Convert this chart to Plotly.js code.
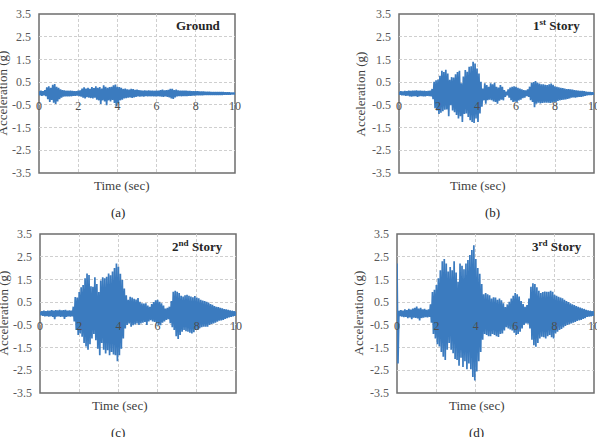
<!DOCTYPE html>
<html><head><meta charset="utf-8">
<script src="https://cdn.plot.ly/plotly-3.0.1.min.js"></script>
<style>html,body{margin:0;padding:0;background:#fff}#chart{width:597px;height:437px}</style>
</head><body><div id="chart"></div>
<script>
// sampling step of the envelope readings (s)
const dt = 0.1;

// Ground (a): upper / lower envelope every 0.1 s, 0..10 s
const groundUpper = [0.10,0.12,0.10,0.15,0.27,0.32,0.25,0.38,0.42,0.30,
 0.25,0.18,0.15,0.14,0.12,0.12,0.13,0.11,0.10,0.10,
 0.12,0.14,0.22,0.27,0.22,0.25,0.20,0.28,0.24,0.32,
 0.25,0.28,0.22,0.36,0.30,0.25,0.28,0.30,0.36,0.39,
 0.30,0.28,0.25,0.20,0.22,0.18,0.17,0.20,0.19,0.16,
 0.17,0.15,0.14,0.13,0.14,0.13,0.14,0.12,0.13,0.12,
 0.12,0.13,0.15,0.17,0.14,0.15,0.16,0.20,0.21,0.15,
 0.17,0.14,0.13,0.12,0.12,0.12,0.11,0.11,0.10,0.10,
 0.10,0.10,0.09,0.09,0.09,0.08,0.08,0.08,0.07,0.07,
 0.07,0.07,0.06,0.06,0.06,0.05,0.05,0.05,0.04,0.04,0.04];
const groundLower = [-0.08,-0.10,-0.08,-0.12,-0.25,-0.37,-0.28,-0.40,-0.46,-0.35,
 -0.25,-0.18,-0.14,-0.13,-0.12,-0.13,-0.12,-0.10,-0.10,-0.09,
 -0.11,-0.14,-0.18,-0.22,-0.16,-0.18,-0.20,-0.22,-0.18,-0.27,
 -0.30,-0.46,-0.30,-0.35,-0.52,-0.30,-0.35,-0.28,-0.42,-0.57,
 -0.42,-0.30,-0.27,-0.22,-0.20,-0.18,-0.17,-0.19,-0.17,-0.15,
 -0.13,-0.14,-0.13,-0.14,-0.12,-0.13,-0.12,-0.12,-0.13,-0.12,
 -0.12,-0.13,-0.14,-0.15,-0.13,-0.15,-0.17,-0.22,-0.24,-0.17,
 -0.13,-0.12,-0.12,-0.11,-0.11,-0.11,-0.10,-0.10,-0.09,-0.09,
 -0.08,-0.08,-0.08,-0.08,-0.07,-0.07,-0.07,-0.07,-0.07,-0.07,
 -0.06,-0.06,-0.06,-0.06,-0.05,-0.05,-0.05,-0.05,-0.04,-0.04,-0.04];

// 1st Story (b)
const story1Upper = [0.08,0.10,0.09,0.11,0.10,0.12,0.11,0.13,0.12,0.14,
 0.12,0.13,0.11,0.12,0.10,0.11,0.12,0.20,0.52,0.58,
 0.62,0.78,1.00,0.95,1.05,0.88,0.60,0.72,0.70,0.85,
 0.95,1.00,0.45,0.75,1.03,0.96,1.18,1.20,1.40,1.32,
 1.10,0.88,0.52,0.22,0.45,0.37,0.30,0.45,0.40,0.47,
 0.30,0.26,0.37,0.30,0.15,0.08,0.18,0.26,0.30,0.32,
 0.30,0.25,0.22,0.18,0.15,0.14,0.18,0.30,0.47,0.50,
 0.55,0.48,0.44,0.40,0.40,0.38,0.37,0.40,0.44,0.38,
 0.32,0.30,0.27,0.25,0.24,0.22,0.20,0.19,0.18,0.17,
 0.15,0.14,0.13,0.12,0.11,0.10,0.08,0.07,0.06,0.05,0.04];
const story1Lower = [-0.06,-0.08,-0.08,-0.10,-0.09,-0.12,-0.14,-0.12,-0.11,-0.15,
 -0.12,-0.11,-0.13,-0.12,-0.10,-0.11,-0.12,-0.25,-0.65,-0.75,
 -0.90,-0.85,-0.78,-0.72,-0.70,-1.00,-0.52,-0.75,-0.82,-0.95,
 -1.10,-1.00,-1.25,-0.90,-0.88,-1.03,-1.18,-1.25,-1.30,-1.10,
 -1.25,-0.88,-0.58,-0.30,-0.45,-0.30,-0.27,-0.30,-0.35,-0.37,
 -0.45,-0.32,-0.27,-0.30,-0.15,-0.08,-0.18,-0.30,-0.37,-0.36,
 -0.37,-0.30,-0.27,-0.20,-0.18,-0.12,-0.15,-0.30,-0.37,-0.60,
 -0.45,-0.40,-0.44,-0.42,-0.41,-0.40,-0.41,-0.42,-0.41,-0.38,
 -0.37,-0.33,-0.30,-0.28,-0.27,-0.26,-0.24,-0.22,-0.18,-0.17,
 -0.18,-0.16,-0.15,-0.15,-0.12,-0.10,-0.08,-0.07,-0.06,-0.05,-0.04];

// 2nd Story (c)
const story2Upper = [0.08,0.10,0.12,0.10,0.13,0.12,0.15,0.13,0.15,0.14,
 0.16,0.14,0.15,0.16,0.13,0.14,0.13,0.30,0.73,0.70,
 0.95,1.15,1.25,1.55,1.76,1.70,1.20,1.18,1.60,1.30,
 0.95,1.45,1.60,1.55,1.62,1.76,1.68,1.85,2.00,2.20,
 2.06,1.75,1.47,1.10,0.80,0.60,0.74,0.70,0.65,0.62,
 0.68,0.52,0.45,0.44,0.45,0.35,0.30,0.42,0.50,0.58,
 0.60,0.52,0.45,0.35,0.22,0.25,0.30,0.55,0.96,1.00,
 0.96,0.90,0.78,0.75,0.80,0.82,0.78,0.75,0.72,0.77,
 0.70,0.67,0.60,0.57,0.55,0.52,0.48,0.42,0.38,0.33,
 0.30,0.28,0.25,0.23,0.20,0.18,0.16,0.14,0.12,0.10,0.08];
const story2Lower = [-0.08,-0.10,-0.12,-0.11,-0.14,-0.12,-0.15,-0.25,-0.14,-0.13,
 -0.15,-0.14,-0.24,-0.15,-0.13,-0.14,-0.13,-0.35,-0.73,-0.95,
 -0.88,-1.02,-1.30,-1.45,-1.60,-1.35,-1.10,-0.90,-1.18,-1.55,
 -1.84,-1.30,-1.60,-1.76,-1.62,-1.84,-1.70,-1.80,-1.84,-2.10,
 -1.84,-1.55,-1.10,-0.66,-0.50,-0.44,-0.58,-0.52,-0.48,-0.44,
 -0.50,-0.44,-0.40,-0.37,-0.50,-0.35,-0.29,-0.35,-0.37,-0.44,
 -0.50,-0.52,-0.40,-0.35,-0.28,-0.25,-0.43,-0.60,-0.73,-1.00,
 -1.12,-0.95,-0.80,-0.73,-0.78,-0.80,-0.85,-0.88,-0.82,-0.73,
 -0.70,-0.65,-0.60,-0.58,-0.58,-0.58,-0.50,-0.46,-0.44,-0.40,
 -0.36,-0.32,-0.30,-0.28,-0.24,-0.20,-0.17,-0.15,-0.12,-0.10,-0.10];

// 3rd Story (d)
const story3Upper = [2.20,0.12,0.15,0.13,0.18,0.15,0.20,0.17,0.22,0.25,
 0.30,0.22,0.25,0.18,0.20,0.16,0.18,0.40,0.95,1.05,
 1.25,1.55,1.90,2.30,2.40,2.20,1.85,2.05,1.90,2.30,
 1.80,1.40,2.20,2.10,1.95,2.20,2.35,2.57,2.80,3.00,
 2.40,2.00,1.75,1.30,0.85,0.90,0.85,0.80,0.66,0.72,
 0.70,0.60,0.66,0.58,0.45,0.28,0.40,0.52,0.66,0.78,
 0.90,0.85,0.75,0.55,0.42,0.30,0.37,0.66,1.18,1.33,
 1.30,1.15,1.00,0.90,0.95,0.97,0.96,0.96,1.00,0.96,
 0.82,0.78,0.74,0.70,0.67,0.60,0.55,0.50,0.45,0.40,
 0.37,0.33,0.30,0.26,0.23,0.20,0.16,0.14,0.12,0.10,0.10];
const story3Lower = [-2.20,-0.12,-0.14,-0.16,-0.15,-0.20,-0.17,-0.25,-0.18,-0.20,
 -0.22,-0.30,-0.20,-0.18,-0.16,-0.17,-0.15,-0.40,-0.90,-1.10,
 -1.35,-1.45,-1.70,-1.90,-2.05,-1.60,-1.30,-1.60,-1.75,-2.00,
 -2.05,-2.30,-1.95,-2.35,-2.10,-2.45,-2.20,-2.45,-2.80,-2.95,
 -2.55,-2.10,-1.70,-1.15,-0.90,-0.95,-1.00,-1.00,-0.90,-0.95,
 -1.00,-1.03,-0.90,-0.88,-0.75,-0.60,-0.66,-0.70,-0.75,-0.85,
 -0.95,-0.90,-0.80,-0.66,-0.50,-0.44,-0.45,-0.66,-1.15,-1.40,
 -1.46,-1.30,-1.10,-1.02,-1.05,-1.10,-1.00,-0.95,-1.05,-1.10,
 -0.88,-0.80,-0.73,-0.68,-0.62,-0.55,-0.50,-0.47,-0.44,-0.40,
 -0.37,-0.33,-0.30,-0.28,-0.24,-0.20,-0.15,-0.14,-0.12,-0.10,-0.10];

const panelLabels = ['Ground', '1<sup>st</sup> Story', '2<sup>nd</sup> Story', '3<sup>rd</sup> Story'];
const panelCaptions = ['(a)', '(b)', '(c)', '(d)'];
const xTickVals = [0, 2, 4, 6, 8, 10];
const xTickText = ['0', '2', '4', '6', '8', '10'];
const yTickVals = [-3.5, -2.5, -1.5, -0.5, 0.5, 1.5, 2.5, 3.5];
const yTickText = ['-3.5', '-2.5', '-1.5', '-0.5', '0.5', '1.5', '2.5', '3.5'];
const xAxisTitle = 'Time (sec)';
const yAxisTitle = 'Acceleration (g)';

const series = [[groundUpper, groundLower], [story1Upper, story1Lower],
                [story2Upper, story2Lower], [story3Upper, story3Lower]];

// ---------- layout geometry (pixels) ----------
const W = 597, H = 437;
const boxes = [
  {l: 39, r: 235, t: 14, b: 173},
  {l: 399, r: 594, t: 14, b: 173},
  {l: 40, r: 236, t: 234, b: 393},
  {l: 397, r: 594, t: 234, b: 393}
];
const labelPos = [[198, 25], [556, 25], [197, 246], [557, 246]];
const xTitlePos = [[122, 185], [478, 185], [120, 405], [477, 405]];
const yTitleX = [2, 360, 3, 358];
const captionPos = [[118, 212], [493, 212], [118, 432], [476, 432]];

const px = v => v / W;
const py = v => 1 - v / H;
const serif = 'Liberation Serif, Times New Roman, serif';
const lineColor = '#3b7bbf';
const yRange = [-3.5, 3.5];

function zigzag(upper, lower) {
  const x = [], y = [];
  for (let i = 0; i < upper.length; i++) {
    x.push(i * dt); y.push(upper[i]);
    x.push(i * dt + dt / 2); y.push(lower[i]);
  }
  return {x, y};
}

const data = [];
const layout = {
  width: W, height: H,
  margin: {l: 0, r: 0, t: 0, b: 0},
  paper_bgcolor: '#ffffff', plot_bgcolor: '#ffffff',
  showlegend: false,
  font: {family: serif, size: 12, color: '#595959'},
  annotations: [], shapes: []
};

series.forEach((s, k) => {
  const n = k === 0 ? '' : String(k + 1);
  const z = zigzag(s[0], s[1]);
  data.push({
    type: 'scatter', mode: 'lines', x: z.x, y: z.y,
    xaxis: 'x' + n, yaxis: 'y' + n,
    line: {color: lineColor, width: 1.7},
    hoverinfo: 'skip'
  });
  const b = boxes[k];
  const yd = [py(b.b), py(b.t)];
  const zeroFrac = yd[0] + (0 - yRange[0]) / (yRange[1] - yRange[0]) * (yd[1] - yd[0]);
  layout['xaxis' + n] = {
    domain: [px(b.l), px(b.r)], range: [0, 10], anchor: 'free', position: zeroFrac,
    tickmode: 'array', tickvals: xTickVals, ticktext: xTickText,
    showgrid: true, gridcolor: '#cfcfcf', griddash: '3px,2px', gridwidth: 1,
    zeroline: false, showline: false, ticks: '', ticklabelstandoff: 3,
    ticklabeloverflow: 'allow',
    tickfont: {family: serif, size: 12, color: '#4d4d4d'}
  };
  layout['yaxis' + n] = {
    domain: yd, range: yRange, anchor: 'x' + n,
    tickmode: 'array', tickvals: yTickVals, ticktext: yTickText,
    showgrid: true, gridcolor: '#cfcfcf', griddash: '3px,2px', gridwidth: 1,
    zeroline: false, showline: false, ticks: '', ticklabelstandoff: 7,
    tickfont: {family: serif, size: 12, color: '#595959'}
  };
  layout.shapes.push({
    type: 'rect', xref: 'x' + n + ' domain', yref: 'y' + n + ' domain',
    x0: 0, x1: 1, y0: 0, y1: 1, line: {color: '#6e6e6e', width: 1.5}, layer: 'below'
  });
  layout.annotations.push({
    text: '<b>' + panelLabels[k] + '</b>', xref: 'paper', yref: 'paper',
    x: px(labelPos[k][0]), y: py(labelPos[k][1]), xanchor: 'center', yanchor: 'middle',
    showarrow: false, font: {family: serif, size: 13, color: '#262626'}
  });
  layout.annotations.push({
    text: xAxisTitle, xref: 'paper', yref: 'paper',
    x: px(xTitlePos[k][0]), y: py(xTitlePos[k][1]), xanchor: 'center', yanchor: 'middle',
    showarrow: false, font: {family: serif, size: 13, color: '#404040'}
  });
  layout.annotations.push({
    text: yAxisTitle, xref: 'paper', yref: 'paper', textangle: -90,
    x: px(yTitleX[k]), y: (yd[0] + yd[1]) / 2, xanchor: 'center', yanchor: 'middle',
    showarrow: false, font: {family: serif, size: 13, color: '#404040'}
  });
  layout.annotations.push({
    text: panelCaptions[k], xref: 'paper', yref: 'paper',
    x: px(captionPos[k][0]), y: py(captionPos[k][1]), xanchor: 'center', yanchor: 'middle',
    showarrow: false, font: {family: serif, size: 13, color: '#262626'}
  });
});

Plotly.newPlot('chart', data, layout, {displayModeBar: false, staticPlot: true});
</script>
</body></html>
